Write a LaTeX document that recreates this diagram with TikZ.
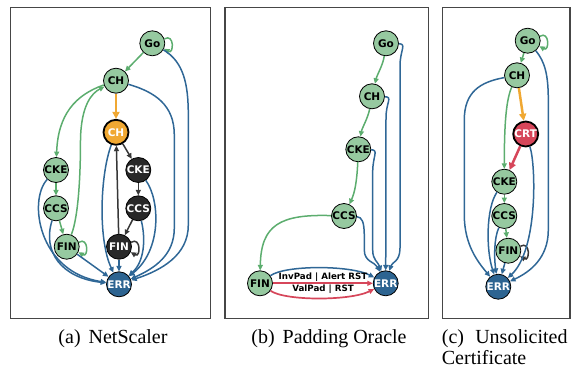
\documentclass[tikz,border=0pt]{standalone}
\usepackage{fontspec}
\setmainfont{Liberation Serif}
\newfontfamily\nf{DejaVu Sans}
\usetikzlibrary{arrows.meta}
\definecolor{ngreen}{RGB}{150,201,160}
\definecolor{egreen}{RGB}{92,173,110}
\definecolor{eblue}{RGB}{47,103,150}
\definecolor{nblue}{RGB}{45,100,145}
\definecolor{eorange}{RGB}{240,168,50}
\definecolor{ered}{RGB}{214,70,90}
\definecolor{nblack}{RGB}{40,40,40}
\definecolor{ekgray}{RGB}{55,55,55}
\definecolor{framec}{RGB}{70,70,70}
\tikzset{
  st/.style={circle, draw=black, line width=0.8pt, minimum size=25pt, inner sep=0pt,
    font=\nf\bfseries\fontsize{10.5}{12}\selectfont},
  gn/.style={st, fill=ngreen, text=black},
  on/.style={st, fill=eorange, text=white, line width=1.8pt},
  kn/.style={st, fill=nblack, text=white},
  bn/.style={st, fill=nblue, text=white},
  rn/.style={st, fill=ered, text=white, line width=1.8pt},
  ed/.style={line width=1.5pt, -{Triangle[length=5.5pt,width=5pt]}},
  gE/.style={ed, draw=egreen},
  bE/.style={ed, draw=eblue},
  kE/.style={ed, draw=ekgray},
  rE/.style={ed, draw=ered, line width=1.7pt},
  oE/.style={line width=2.5pt, draw=eorange, -{Triangle[length=7pt,width=7pt]}},
  rrE/.style={line width=2.5pt, draw=ered, -{Triangle[length=7pt,width=7pt]}},
  frame/.style={draw=framec, line width=1.1pt},
  lbl/.style={inner sep=0pt, font=\nf\bfseries\fontsize{8.7}{10}\selectfont},
  captxt/.style={inner sep=0pt, font=\fontsize{20}{22}\selectfont},
}
\begin{document}
\begin{tikzpicture}[x=1pt,y=-1pt]
\useasboundingbox (0,0) rectangle (579,370);
% frames
\draw[frame] (10.7,7.3) rectangle (210.7,318.5);
\draw[frame] (225,7.3) rectangle (428.3,318.5);
\draw[frame] (442.3,7.3) rectangle (570,318.5);

% ---------------- panel a
\node[gn] (aGo) at (152.3,43.3) {Go};
\node[gn] (aCH) at (116,80.7) {CH};
\node[on] (aoCH) at (116,132.3) {CH};
\node[gn] (agCKE) at (56,170) {CKE};
\node[kn] (abCKE) at (138.3,170) {CKE};
\node[gn] (agCCS) at (56,208.3) {CCS};
\node[kn] (abCCS) at (138.3,208.3) {CCS};
\node[gn] (agFIN) at (66.7,246.7) {FIN};
\node[kn] (abFIN) at (119,246.7) {FIN};
\node[bn] (aERR) at (119,284.3) {ERR};

\draw[gE] (aGo.20) .. controls +(10,-6) and +(10,6) .. (aGo.-25);
\draw[gE] (aGo) -- (aCH);
\draw[gE] (aCH) .. controls (75,95) and (58,115) .. (agCKE);
\draw[gE] (agFIN) .. controls (79,215) and (80.5,170) .. (80.5,140) .. controls (81,105) and (92,93) .. (aCH);
\draw[gE] (agCKE) -- (agCCS);
\draw[gE] (agCCS) -- (agFIN);
\draw[gE] (agFIN.20) .. controls +(10,-6) and +(10,6) .. (agFIN.-25);
\draw[oE] (aCH) -- (aoCH);
\draw[kE] (aoCH) -- (abCKE);
\draw[kE] (abCKE) -- (abCCS);
\draw[kE] (abCCS) -- (abFIN);
\draw[kE] (abFIN) -- (aoCH);
\draw[kE] (abFIN.20) .. controls +(10,-6) and +(10,6) .. (abFIN.-25);
% blue into ERR
\draw[bE] (aGo) .. controls (184,62) and (188.3,85) .. (188.3,115) -- (188.3,225) .. controls (188.3,255) and (162,270) .. (aERR);
\draw[bE] (aCH) .. controls (155,92) and (174.3,105) .. (174.3,135) -- (174.3,228) .. controls (174.3,255) and (155,268) .. (aERR);
\draw[bE] (abCKE) .. controls (160,200) and (162,250) .. (aERR);
\draw[bE] (abCCS) .. controls (146,240) and (144,262) .. (aERR);
\draw[bE] (abFIN) -- (aERR);
\draw[bE] (aoCH) .. controls (100,175) and (98,240) .. (aERR);
\draw[bE] (agCKE) .. controls (28,200) and (38,272) .. (aERR);
\draw[bE] (agCCS) .. controls (42,252) and (62,278) .. (aERR);
\draw[bE] (agFIN) -- (aERR);

% ---------------- panel b
\node[gn] (bGo) at (386,43.3) {Go};
\node[gn] (bCH) at (372,96.3) {CH};
\node[gn] (bCKE) at (358.3,149.3) {CKE};
\node[gn] (bCCS) at (344,216) {CCS};
\node[gn] (bFIN) at (260,283.3) {FIN};
\node[bn] (bERR) at (385.7,283.3) {ERR};

\draw[gE] (bGo) .. controls (383,65) and (377,75) .. (bCH);
\draw[gE] (bCH) .. controls (368,118) and (362,128) .. (bCKE);
\draw[gE] (bCKE) .. controls (357,180) and (355,192) .. (bCCS);
\draw[gE] (bCCS) .. controls (280,214) and (261,225) .. (bFIN);
\draw[bE] (bGo) .. controls (407,44) and (400,50) .. (400,66) -- (400,248) .. controls (400,262) and (392,262) .. (bERR);
\draw[bE] (bCH) .. controls (393,97) and (386,102) .. (386,118) -- (bERR);
\draw[bE] (bCKE) .. controls (379,150) and (372.7,156) .. (372.7,172) -- (372.7,250) .. controls (372.7,260) and (378,262) .. (bERR);
\draw[bE] (bCCS) .. controls (362,217) and (364.3,222) .. (364.3,236) -- (364.3,250) .. controls (364.3,262) and (375,262) .. (bERR);
\draw[bE] (bFIN) .. controls (285,265) and (350,265) .. (bERR);
\draw[rE] (bFIN) -- (bERR);
\draw[rE] (bFIN) .. controls (285,301) and (350,301) .. (bERR);
\node[lbl] at (323,277) {InvPad | Alert RST};
\node[lbl] at (323,289.6) {ValPad | RST};

% ---------------- panel c
\node[gn] (cGo) at (527.7,40.7) {Go};
\node[gn] (cCH) at (517,75.3) {CH};
\node[rn] (cCRT) at (525.7,134) {CRT};
\node[gn] (cCKE) at (504.3,181.7) {CKE};
\node[gn] (cCCS) at (504.3,216) {CCS};
\node[gn] (cFIN) at (508.3,250.7) {FIN};
\node[bn] (cERR) at (498.3,286.7) {ERR};

\draw[gE] (cGo.20) .. controls +(10,-6) and +(10,6) .. (cGo.-25);
\draw[gE] (cGo) -- (cCH);
\draw[oE] (cCH) -- (cCRT);
\draw[gE] (cCH) .. controls (506,100) and (504.3,125) .. (cCKE);
\draw[rrE] (cCRT) -- (cCKE);
\draw[gE] (cCKE) -- (cCCS);
\draw[gE] (cCCS) -- (cFIN);
\draw[kE] (cFIN.20) .. controls +(10,-6) and +(10,6) .. (cFIN.-25);
\draw[bE] (cGo) .. controls (545,62) and (548.3,75) .. (548.3,100) -- (548.3,230) .. controls (548.3,258) and (530,272) .. (cERR);
\draw[bE] (cCH) .. controls (480,82) and (464.3,92) .. (464.3,120) -- (464.3,215) .. controls (464.3,245) and (478,262) .. (cERR);
\draw[bE] (cCRT) .. controls (536,165) and (538,250) .. (cERR);
\draw[bE] (cCKE) .. controls (486,208) and (486,250) .. (cERR);
\draw[bE] (cCCS) .. controls (494,238) and (494,258) .. (cERR);
\draw[bE] (cFIN) -- (cERR);

% captions
\node[captxt, anchor=base] at (113,343) {(a)\hspace{0.4em}NetScaler};
\node[captxt, anchor=base] at (329,343) {(b)\hspace{0.4em}Padding Oracle};
\node[captxt, anchor=base west] at (441.7,343) {(c)};
\node[captxt, anchor=base east] at (567.7,343) {Unsolicited};
\node[captxt, anchor=base west] at (441.7,364) {Certificate};
\end{tikzpicture}
\end{document}
